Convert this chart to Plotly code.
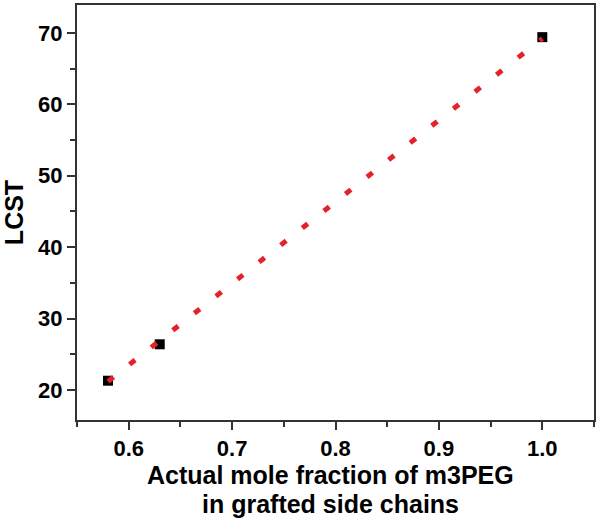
import plotly.graph_objects as go

# Data
mole_fraction = [0.58, 0.63, 1.0]
lcst = [21.3, 26.4, 69.4]

# Linear fit line endpoints
fit_x = [0.58, 1.0]
fit_y = [21.2, 69.2]

x_ticks = [0.6, 0.7, 0.8, 0.9, 1.0]
x_ticklabels = ["0.6", "0.7", "0.8", "0.9", "1.0"]
y_ticks = [20, 30, 40, 50, 60, 70]
x_title_lines = ["Actual mole fraction of m3PEG", "in grafted side chains"]
y_title = "LCST"

FONT = "Liberation Sans, Arial, sans-serif"

fig = go.Figure()
fig.add_trace(go.Scatter(
    x=mole_fraction, y=lcst, mode="markers",
    marker=dict(symbol="square", size=10, color="black", line=dict(width=0)),
    showlegend=False,
))
fig.add_trace(go.Scatter(
    x=fit_x, y=fit_y, mode="lines",
    line=dict(color="#e3222a", width=5, dash="7px,20.5px"),
    showlegend=False,
))

axis_common = dict(
    showgrid=False, zeroline=False, automargin=False,
    showline=True, linecolor="#333333", linewidth=2, mirror=True,
    ticks="outside", ticklen=8, tickwidth=2, tickcolor="#333333",
    tickfont=dict(family=FONT, size=22, color="black", weight="bold"),
)

fig.update_xaxes(
    range=[0.55, 1.05],
    tickvals=x_ticks, ticktext=x_ticklabels,
    minor=dict(dtick=0.05, ticks="outside", ticklen=5, tickwidth=2, tickcolor="#333333"),
    **axis_common,
)
fig.update_yaxes(
    range=[15.8, 73.9],
    tickvals=y_ticks,
    minor=dict(dtick=5, ticks="outside", ticklen=5, tickwidth=2, tickcolor="#333333"),
    title=dict(text=y_title,
               font=dict(family=FONT, size=25, color="black", weight="bold"),
               standoff=7),
    **axis_common,
)

for i, line in enumerate(x_title_lines):
    fig.add_annotation(
        text=line, xref="paper", yref="paper", x=0.49, y=0,
        xanchor="center", yanchor="middle", yshift=-55 - 29 * i,
        showarrow=False,
        font=dict(family=FONT, size=25, color="black", weight="bold"),
    )

fig.update_layout(
    width=600, height=524,
    margin=dict(l=77, r=6, t=5, b=104),
    plot_bgcolor="white", paper_bgcolor="white",
)

fig.write_html("out.html", config={"displayModeBar": False},
               post_script="document.body.style.margin='0';document.body.style.overflow='hidden';")
